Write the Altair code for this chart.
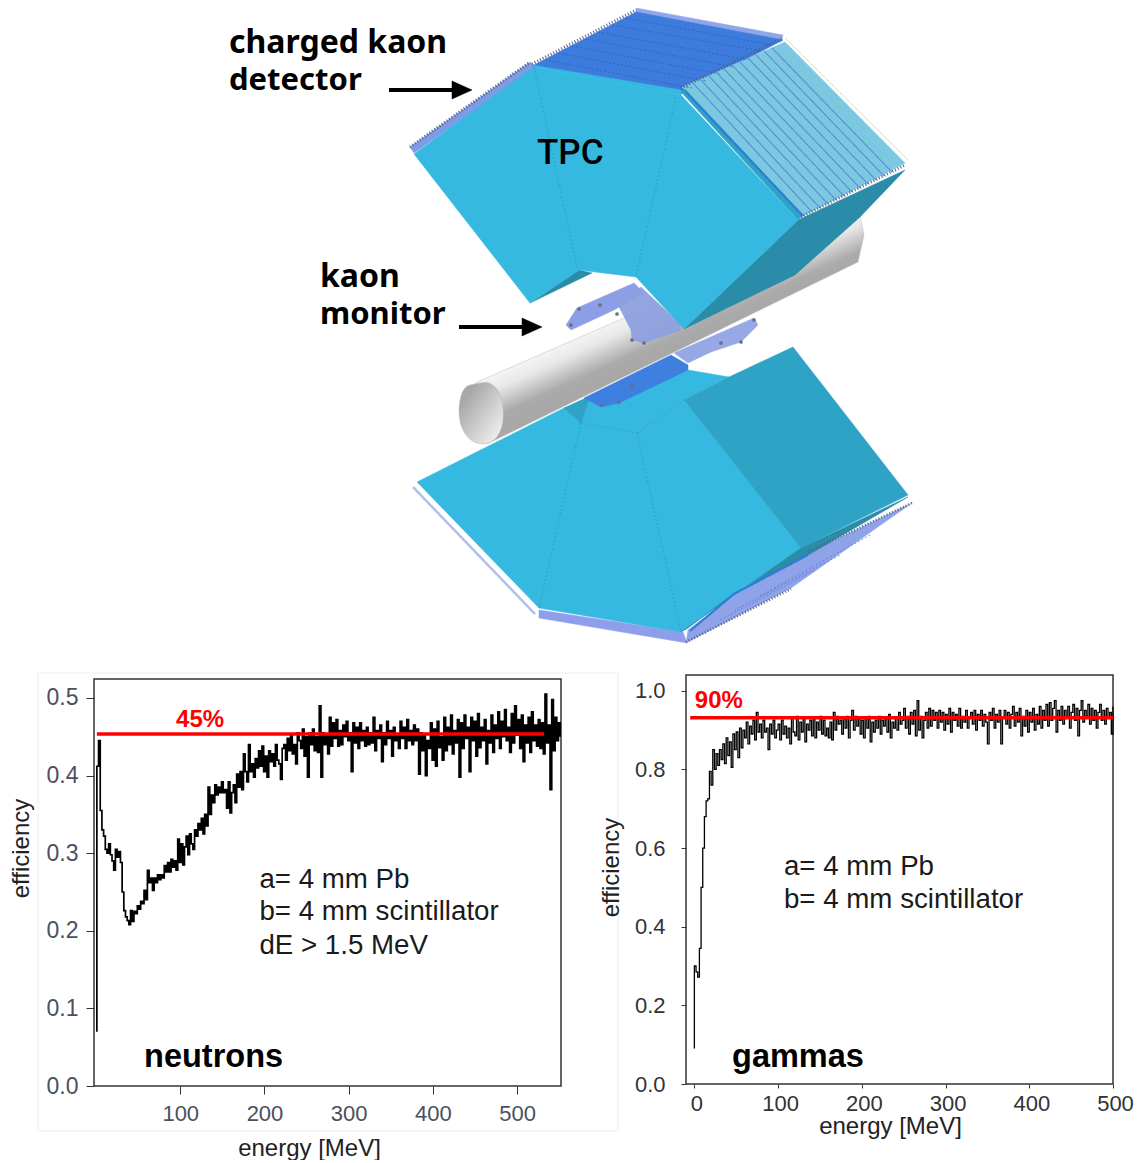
import altair as alt
import pandas as pd

# ---------- series (efficiency x 1000) ----------
neutron_milli = [70,
 412,445,355,330,322,305,300,312,298,290,
 278,305,295,302,288,250,226,218,213,208,
 226,212,225,222,232,228,238,235,252,240,
 278,262,268,252,268,262,272,266,272,268,
 284,276,288,276,292,282,290,278,318,288,
 312,285,308,322,298,325,312,305,330,322,
 338,330,345,325,350,335,385,350,375,365,
 388,375,385,378,392,378,382,358,392,352,
 378,388,365,402,385,405,382,428,405,392,
 440,405,415,398,422,410,432,412,438,405,
 425,398,432,418,428,412,440,420,415,395,
 435,440,420,448,432,452,428,440,415,455,
 445,435,460,425,450,398,455,440,460,432,
 450,430,490,398,455,440,452,428,475,438,
 468,448,472,438,458,440,465,450,470,445,
 455,405,468,442,462,435,468,445,458,438,
 462,440,455,442,475,432,458,448,465,418,
 455,440,470,448,458,425,462,445,452,435,
 470,448,462,435,472,445,458,440,465,445,
 460,402,455,432,452,400,445,435,468,420,
 460,412,470,436,450,420,475,432,462,440,
 478,428,458,442,472,398,468,435,478,448,
 462,405,475,445,470,425,480,436,462,445,
 472,415,458,442,478,430,465,448,482,435,
 470,450,485,445,462,430,480,442,490,452,
 472,435,478,418,465,442,475,430,482,445,
 465,438,472,435,468,428,505,442,465,382,
 498,432,475,445,468,450]

gamma_milli = [90,
 300,285,272,345,500,600,680,720,725,795,
 760,850,800,840,810,850,825,865,815,880,
 835,870,805,890,850,895,830,905,855,900,
 880,920,865,910,890,925,875,945,895,915,
 880,925,895,905,850,915,890,925,880,900,
 915,875,925,890,910,880,905,865,930,895,
 885,935,875,920,895,930,870,915,900,925,
 885,930,880,920,900,935,890,925,885,905,
 880,920,875,945,900,935,915,925,890,930,
 905,935,880,925,950,900,935,910,930,890,
 925,880,930,905,935,870,920,895,925,905,
 935,890,925,910,930,895,940,880,920,905,
 930,900,945,915,925,955,905,935,890,945,
 915,950,885,975,900,935,880,925,945,905,
 955,910,950,925,945,905,950,920,945,900,
 940,915,955,895,945,925,940,910,955,905,
 935,920,950,905,930,945,915,950,900,940,
 925,950,910,940,920,865,945,925,955,905,
 940,920,950,865,930,950,915,945,905,940,
 960,910,945,920,955,885,935,910,950,895,
 945,920,955,900,940,915,960,905,950,925,
 965,910,970,925,955,975,895,950,925,960,
 915,950,930,960,905,945,965,925,955,885,
 950,975,920,950,935,965,915,955,925,950,
 905,945,965,925,950,915,955,930,945,890,960]

neutron_energy = [1] + [1 + 2 * i for i in range(len(neutron_milli) - 1)]
gamma_energy = [0] + [2 * i for i in range(len(gamma_milli) - 1)]

neutron_ticks_x = [100, 200, 300, 400, 500]
neutron_ticks_y = [0.0, 0.1, 0.2, 0.3, 0.4, 0.5]
gamma_ticks_x = [0, 100, 200, 300, 400, 500]
gamma_ticks_y = [0.0, 0.2, 0.4, 0.6, 0.8, 1.0]

neutron_notes = ["a= 4 mm Pb", "b= 4 mm scintillator", "dE > 1.5 MeV"]
neutron_note_y = [0.266, 0.224, 0.181]
gamma_notes = ["a= 4 mm Pb", "b= 4 mm scintillator"]
gamma_note_y = [0.551, 0.467]

# ---------- detector sketch outlines (page pixels) ----------
CYAN, TEAL, MIDTEAL = "#35B9E1", "#2A8CA8", "#2EA3C6"
sketch = [
 # lower module
 ("#8E9EEB", 1, [(539,610),(683,632),(687,643),(539,618)]),
 ("#8FA4E8", 1, [(808,553),(912,503),(791,588),(686,643),(688,630),(734,594)]),
 (CYAN, 1, [(417,482),(564,408),(581,423),(637,433),(684,400),(801,548),(681,632),(539,608)]),
 (CYAN, 1, [(564,408),(688,370),(729,377),(684,400),(637,433),(581,423)]),
 (MIDTEAL, 1, [(564,408),(590,396),(581,423)]),
 (MIDTEAL, 1, [(684,400),(729,377),(793,347),(908,495),(801,548)]),
 (TEAL, 1, [(801,548),(908,497),(805,557),(734,593),(688,628),(681,632)]),
 # lower monitor
 ("#98A8E6", 1, [(674,353),(754,318),(758,325),(741,342),(711,352),(688,363)]),
 ("#3F7FE0", 1, [(584,398),(671,355),(688,365),(688,370),(619,403),(601,407)]),
]
monitor_back = [
 ("#8C9FE6", 1, [(566,325),(577,308),(634,283),(644,293),(614,310),(571,330)]),
]
monitor_front = [
 ("#8EA0E0", 0.95, [(641,287),(679,323),(681,330),(644,343),(632,340),(631,330),(617,303)]),
]
tube_body = [(475,383),(860,215),(864,235),(858,262),(487,444)]
tube_mouth = [(475,384),(489,383),(499,392),(503,408),(502,426),(495,439),(484,444),(471,440),(462,428),(459,412),(461,396),(466,387)]
top_module = [
 ("#8FA6EA", 1, [(636,8),(783,35),(781,42),(636,16)]),
 ("#7E9BE5", 1, [(410,147),(530,62),(536,68),(414,153)]),
 ("#3D7BDC", 1, [(532,66),(636,12),(783,40),(681,94)]),
 ("#7CC8E0", 1, [(682,87),(785,42),(905,163),(801,217)]),
 (MIDTEAL, 1, [(681,92),(685,89),(803,215),(798,220)]),
 (TEAL, 1, [(798,220),(905,170),(860,217),(795,275),(684,329)]),
 (TEAL, 1, [(579,270),(592,273),(530,303)]),
 (CYAN, 1, [(414,154),(534,67),(681,95),(798,220),(684,329),(636,277),(579,270),(530,303)]),
 (CYAN, 1, [(534,67),(532,65),(681,90),(681,95)]),
]
seams = [
 ("#2A8CA8", 0.6, [2,2], [(534,67),(577,267)]),
 ("#2A8CA8", 0.6, [2,2], [(676,97),(636,277)]),
 ("#2A8CA8", 0.6, [2,2], [(581,423),(539,608)]),
 ("#2A8CA8", 0.6, [2,2], [(637,433),(681,632)]),
 ("#2A8CA8", 0.6, [2,2], [(581,423),(637,433)]),
 ("#2A8CA8", 0.6, [2,2], [(637,433),(684,400)]),
 ("#2F7BD8", 2, [1,0], [(685,91),(803,216)]),
 ("#2F7BD8", 2, [1,0], [(808,555),(734,594),(690,631)]),
 ("#B0C0EE", 2.5, [1,0], [(413,487),(535,614)]),
 ("#C8C8C8", 0.8, [1,0], [(785,38),(908,160)]),
 ("#555F85", 3, [1,2], [(410,147),(530,62)]),
 ("#555F85", 3, [1,2], [(532,64),(636,10)]),
 ("#555F85", 3, [1,2], [(681,88),(783,38)]),
 ("#555F85", 3, [1,2], [(801,217),(905,165)]),
 ("#555F85", 2.5, [1,2], [(808,552),(912,503)]),
 ("#555F85", 2.5, [1,2], [(686,642),(791,589)]),
 ("#2A5FC0", 0.8, [2,2], [(545,60),(692,88)]),
 ("#2A5FC0", 0.8, [2,2], [(558,53),(706,81)]),
 ("#2A5FC0", 0.8, [2,2], [(572,46),(720,74)]),
 ("#2A5FC0", 0.8, [2,2], [(585,39),(734,67)]),
 ("#2A5FC0", 0.8, [2,2], [(598,32),(748,60)]),
 ("#2A5FC0", 0.8, [2,2], [(612,25),(762,51)]),
 ("#2A5FC0", 0.8, [2,2], [(625,18),(772,45)]),
 ("#5F73D2", 0.8, [2,2], [(735,610),(840,555)]),
 ("#5F73D2", 0.8, [2,2], [(760,596),(870,535)]),
 ("#5F73D2", 0.8, [2,2], [(720,620),(815,570)]),
 ("#5A90D8", 1.2, [1,0], [(692,82),(812,212)]),
 ("#5A90D8", 1.2, [1,0], [(700,79),(820,208)]),
 ("#5A90D8", 1.2, [1,0], [(708,75),(828,204)]),
 ("#5A90D8", 1.2, [1,0], [(716,72),(836,200)]),
 ("#5A90D8", 1.2, [1,0], [(724,69),(844,196)]),
 ("#5A90D8", 1.2, [1,0], [(732,65),(852,192)]),
 ("#5A90D8", 1.2, [1,0], [(740,62),(860,188)]),
 ("#5A90D8", 1.2, [1,0], [(748,58),(868,184)]),
 ("#5A90D8", 1.2, [1,0], [(756,55),(876,180)]),
 ("#5A90D8", 1.2, [1,0], [(764,51),(884,176)]),
 ("#5A90D8", 1.2, [1,0], [(772,48),(892,172)]),
]
rivets = [(571,325),(579,309),(600,305),(617,314),(632,340),(644,343),(632,386),(601,405),(619,402),(721,343),(741,342),(754,320)]
arrow_heads = [[(452,81),(472,90),(452,99)], [(522,318),(542,327),(522,336)]]
arrow_shafts = [[(389,90),(455,90)], [(459,327),(525,327)]]
labels = [
 ("charged kaon", 229, 43, 32, "bold", "Noto Sans"),
 ("detector", 229, 81, 31, "bold", "Noto Sans"),
 ("TPC", 537, 153, 35, 500, "Roboto"),
 ("kaon", 320, 277, 32, "bold", "Noto Sans"),
 ("monitor", 320, 315, 31, "bold", "Noto Sans"),
]

# ---------- sketch panel ----------
sx = alt.Scale(domain=[94, 1140], range=[0, 1046], nice=False, zero=False)
sy = alt.Scale(domain=[8, 668], range=[0, 660], nice=False, zero=False)


def enc(ch):
    return ch.encode(
        x=alt.X("x:Q", scale=sx, axis=None),
        y=alt.Y("y:Q", scale=sy, axis=None),
        order="i:Q",
    )


def frame(pts):
    return pd.DataFrame({"x": [p[0] for p in pts], "y": [p[1] for p in pts], "i": range(len(pts))})


def poly(pts, fill, op=1, interp="linear-closed"):
    return enc(alt.Chart(frame(pts)).mark_line(
        fill=fill, stroke=fill if isinstance(fill, str) else "#BDBDBD", strokeWidth=0.5,
        opacity=op, interpolate=interp, clip=True))


def seg(pts, col, w, dash):
    return enc(alt.Chart(frame(pts)).mark_line(stroke=col, strokeWidth=w, strokeDash=dash, clip=True))


layers = [poly(p, c, o) for c, o, p in sketch]
layers += [poly(p, c, o) for c, o, p in monitor_back]
tube_fill = alt.LinearGradient(gradient="linear", x1=0.476, y1=0.367, x2=0.589, y2=0.514,
    stops=[alt.GradientStop(offset=0, color="#F5F5F5"), alt.GradientStop(offset=0.3, color="#E8E8E8"),
           alt.GradientStop(offset=0.8, color="#ABABAB"), alt.GradientStop(offset=1, color="#A8A8A8")])
mouth_fill = alt.LinearGradient(gradient="linear", x1=0.2, y1=0.2, x2=0.9, y2=0.9,
    stops=[alt.GradientStop(offset=0, color="#A8A8A8"), alt.GradientStop(offset=1, color="#F0F0F0")])
layers.append(poly(tube_body, tube_fill))
layers.append(poly(tube_mouth, mouth_fill, interp="cardinal-closed"))
layers += [poly(p, c, o) for c, o, p in monitor_front]
layers += [poly(p, c, o) for c, o, p in top_module]
layers += [seg(p, c, w, d) for c, w, d, p in seams]
layers.append(alt.Chart(frame(rivets)).mark_point(filled=True, color="#6A6F80", size=14, opacity=1).encode(
    x=alt.X("x:Q", scale=sx, axis=None), y=alt.Y("y:Q", scale=sy, axis=None)))
layers += [poly(p, "#000000") for p in arrow_heads]
layers += [seg(p, "#000000", 4, [1, 0]) for p in arrow_shafts]
for text, x, y, size, weight, fnt in labels:
    layers.append(alt.Chart(pd.DataFrame({"x": [x], "y": [y], "t": [text]})).mark_text(
        align="left", baseline="middle", font=fnt, fontSize=size, fontWeight=weight, color="#000000"
    ).encode(x=alt.X("x:Q", scale=sx, axis=None), y=alt.Y("y:Q", scale=sy, axis=None), text="t:N"))
diagram = alt.layer(*layers).properties(width=1046, height=660, view=alt.ViewBackground(stroke=None))


# ---------- plots ----------
def plot(energy, milli, xdom, ydom, w, h, xticks, yticks, ax_col, xt, yt, ref_x, ref_y, pct, pct_xy,
         notes, note_x, note_y, note_name, name_xy, exts, tick_x, tick_y, pad_x, pad_y, lab_off, lw, view_stroke,
         lab_x, lab_y):
    xs = alt.Scale(domain=xdom, nice=False, zero=False)
    ys = alt.Scale(domain=ydom, nice=False, zero=False)
    df = pd.DataFrame({"energy": energy, "eff": [m / 1000 for m in milli], "i": range(len(milli))})
    x_ax = alt.Axis(values=xticks, title="energy [MeV]", grid=False, domain=False, tickColor="#333333", tickSize=tick_x,
                    labelFont="Liberation Sans", labelFontSize=lab_x, labelColor=ax_col, labelPadding=pad_x,
                    labelOffset=lab_off, labelFlush=False, labelOverlap=False,
                    titleFont="Liberation Sans", titleFontSize=24, titleFontWeight="normal", titleColor="#222222",
                    titleX=xt[0], titleY=xt[1], titleBaseline="middle", titleAnchor="middle")
    y_ax = alt.Axis(values=yticks, format=".1f", title="efficiency", grid=False, domain=False, tickColor="#333333", tickSize=tick_y,
                    labelFont="Liberation Sans", labelFontSize=lab_y, labelColor=ax_col, labelPadding=pad_y,
                    labelFlush=False, labelOverlap=False,
                    titleFont="Liberation Sans", titleFontSize=24, titleFontWeight="normal", titleColor="#222222",
                    titleX=yt[0], titleY=yt[1], titleBaseline="middle", titleAnchor="middle")
    line = alt.Chart(df).mark_line(interpolate="step-after", color="#000000", strokeWidth=lw).encode(
        x=alt.X("energy:Q", scale=xs, axis=x_ax), y=alt.Y("eff:Q", scale=ys, axis=y_ax), order="i:Q")
    ref = alt.Chart(pd.DataFrame({"energy": ref_x, "eff": [ref_y, ref_y]})).mark_line(color="#FF0000", strokeWidth=3.5, clip=True).encode(
        x=alt.X("energy:Q", scale=xs), y=alt.Y("eff:Q", scale=ys))

    def txt(rows, size, weight, col):
        return alt.Chart(pd.DataFrame(rows)).mark_text(align="left", baseline="middle", font="Liberation Sans",
            fontSize=size, fontWeight=weight, color=col).encode(
            x=alt.X("x:Q", scale=xs), y=alt.Y("y:Q", scale=ys), text="t:N")

    layer = exts + [line, ref,
             txt({"x": [pct_xy[0]], "y": [pct_xy[1]], "t": [pct]}, 24, "bold", "#FF0000"),
             txt({"x": [note_x] * len(notes), "y": note_y, "t": notes}, 27.7, "normal", "#1A1A1A"),
             txt({"x": [name_xy[0]], "y": [name_xy[1]], "t": [note_name]}, 32.5, "bold", "#000000")]
    return alt.layer(*layer).properties(width=w, height=h, view=alt.ViewBackground(stroke=view_stroke, strokeWidth=1.5))


one = pd.DataFrame({"a": [0]})
left_ext = [
    alt.Chart(one).mark_rect(opacity=0).encode(
        x=alt.value(-86), x2=alt.value(-80), y=alt.value(0), y2=alt.value(10)),
    alt.Chart(one).mark_rect(fillOpacity=0, stroke="#EEEEEE", strokeWidth=1).encode(
        x=alt.value(-56), x2=alt.value(524), y=alt.value(-2), y2=alt.value(456)),
    alt.Chart(one).mark_rect(fillOpacity=0, stroke="#333333", strokeWidth=1.5).encode(
        x=alt.value(0), x2=alt.value(467), y=alt.value(4), y2=alt.value(411)),
]
right_ext = [alt.Chart(one).mark_rect(opacity=0).encode(
    x=alt.value(-86), x2=alt.value(427), y=alt.value(-2), y2=alt.value(409))]

left = plot(neutron_energy, neutron_milli, [-2.4, 552], [0, 0.5296], 467, 411, neutron_ticks_x, neutron_ticks_y,
            "#4A5060", (215, 62), (-73, 173), [1, 532], 0.4536, "45%", (95, 0.472),
            neutron_notes, 194, neutron_note_y, "neutrons", (57, 0.037), left_ext, 8, 8, 9, 8, 0, 1.7, None, 22, 23)
right = plot(gamma_energy, gamma_milli, [-10, 500], [0, 1.04], 427, 409, gamma_ticks_x, gamma_ticks_y,
             "#333333", (204, 42), (-75, 192), [-5, 500], 0.931, "90%", (0.5, 0.973),
             gamma_notes, 107, gamma_note_y, "gammas", (45, 0.069), right_ext, 4, 5, 5, 16, 2, 1.3, "#333333", 22, 22)

bottom = alt.hconcat(left, right, spacing=-21)
chart = alt.vconcat(diagram, bottom, spacing=4).properties(padding=0, background="#FFFFFF").configure_concat(spacing=0)
chart.save("out.html", embed_options={"renderer": "svg", "actions": False})
